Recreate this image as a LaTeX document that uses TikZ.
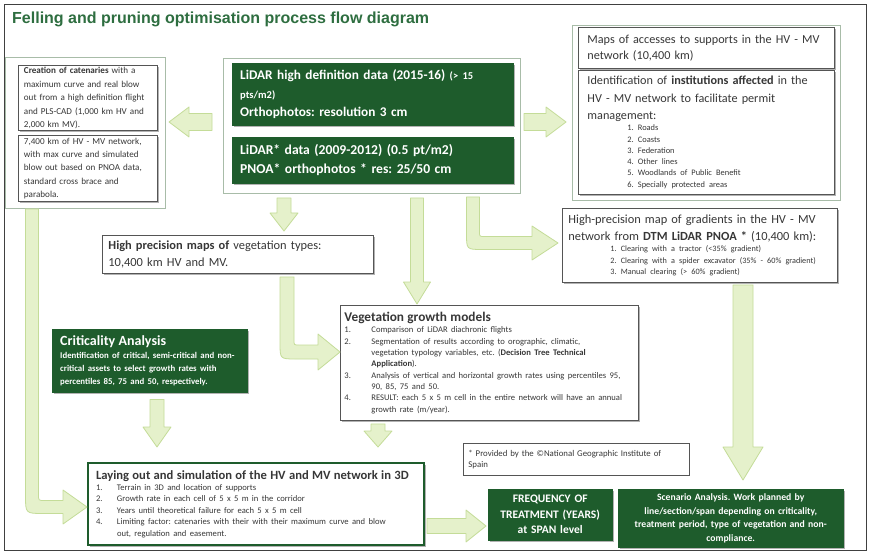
\documentclass[tikz,border=0pt]{standalone}
\usepackage{fontspec}
\setmainfont{Carlito}[WordSpace=0.85]
\newfontfamily\titlefont{Liberation Sans}
\usetikzlibrary{calc,shadows}
\frenchspacing

\definecolor{dkgreen}{RGB}{30,92,44}
\definecolor{titlegreen}{RGB}{46,110,64}
\definecolor{grpedge}{RGB}{168,188,168}
\definecolor{boxedge}{RGB}{85,85,85}
\definecolor{arrfill}{RGB}{229,241,203}
\definecolor{arredge}{RGB}{196,220,152}
\definecolor{txt}{RGB}{55,55,55}

% numbered entry with hanging indent
\newcommand\numitem[3]{\par\noindent\hangindent=#1\hangafter=1\makebox[#1][l]{#2}#3}

% straight block arrow: start, tip, shaft half width, head half width, head length
\newcommand\flowarrow[5]{%
  \coordinate (fa-b) at ($(#2)!#5!(#1)$);
  \filldraw[flow] ($(#1)!#3!90:(#2)$) -- ($(fa-b)!#3!90:(#2)$) -- ($(fa-b)!#4!90:(#2)$)
    -- (#2) -- ($(fa-b)!#4!-90:(#2)$) -- ($(fa-b)!#3!-90:(#2)$) -- ($(#1)!#3!-90:(#2)$) -- cycle;}

% bent block arrow (down, then right): start, tip, shaft half, head half, head length, outer radius, inner radius
\newcommand\bentarrow[7]{%
  \coordinate (ba-c) at (#1 |- #2);
  \filldraw[flow] ($(#1)+(-#3,0)$) -- ($(ba-c)+(-#3,#3-#6)$)
    .. controls ($(ba-c)+(-#3,#3)$) .. ($(ba-c)+(#6-#3,#3)$)
    -- ($(#2)+(-#5,#3)$) -- ($(#2)+(-#5,#4)$) -- (#2) -- ($(#2)+(-#5,-#4)$) -- ($(#2)+(-#5,-#3)$)
    -- ($(ba-c)+(#3+#7,-#3)$) .. controls ($(ba-c)+(#3,-#3)$) .. ($(ba-c)+(#3,-#3-#7)$)
    -- ($(#1)+(#3,0)$) -- cycle;}

\begin{document}
\frenchspacing
\begin{tikzpicture}[x=1pt,y=-1pt,
  grp/.style={draw=grpedge, line width=1pt, anchor=north west, inner sep=0pt},
  softshadow/.style={drop shadow={shadow xshift=1.5pt, shadow yshift=-1.5pt, fill=black, opacity=0.3}},
  wbox/.style={draw=boxedge, fill=white, line width=0.9pt, anchor=north west,
    inner xsep=5pt, inner ysep=2pt, align=left, text=txt, softshadow},
  gbox/.style={fill=dkgreen, draw=dkgreen, anchor=north west, inner xsep=8pt, inner ysep=2pt,
    text=white, align=left, softshadow},
  flow/.style={fill=arrfill, draw=arredge, line width=0.8pt, line join=round}]

\useasboundingbox (0,0) rectangle (869,553);
\fill[white] (0,0) rectangle (869,553);
\draw[black!75, line width=0.8pt] (4,4) rectangle (866,550);

% heading
\node[anchor=west, inner sep=0pt, text=titlegreen,
  font=\titlefont\bfseries\fontsize{16}{19}\selectfont] (title) at (12,19)
  {Felling and pruning optimisation process flow diagram};

% catenaries group
\node[grp, minimum width=160, minimum height=151] (lgroup) at (5,57) {};
\node[wbox, inner xsep=5.5pt, minimum width=139, minimum height=64, text width=128pt,
  font=\fontsize{9.1}{13.4}\selectfont] (cat1) at (18,65)
  {\textbf{Creation of catenaries} with a\\maximum curve and real blow\\out from a high definition flight\\and PLS-CAD (1,000 km HV and\\2,000 km MV).};
\node[wbox, inner xsep=5.5pt, minimum width=139, minimum height=66, text width=128pt,
  font=\fontsize{9.1}{13.4}\selectfont] (cat2) at (18,135)
  {7,400 km of HV - MV network,\\with max curve and simulated\\blow out based on PNOA data,\\standard cross brace and\\parabola.};

% LiDAR group
\node[grp, minimum width=297, minimum height=135] (cgroup) at (223,58) {};
\node[gbox, minimum width=281, minimum height=62, text width=265pt,
  font=\bfseries\fontsize{13.3}{18.5}\selectfont] (lidar1) at (232,63)
  {LiDAR high definition data (2015-16) {\fontsize{10.5}{18}\selectfont (> 15}\\{\fontsize{10.5}{18}\selectfont pts/m2)}\\Orthophotos: resolution 3 cm};
\node[gbox, minimum width=281, minimum height=46, text width=265pt,
  font=\bfseries\fontsize{13.6}{19}\selectfont] (lidar2) at (232,137)
  {LiDAR* data (2009-2012) (0.5 pt/m2)\\PNOA* orthophotos * res: 25/50 cm};

% accesses and institutions group
\node[grp, minimum width=268, minimum height=175] (rgroup) at (572,25) {};
\node[wbox, inner xsep=9pt, minimum width=256, minimum height=41, text width=238pt,
  font=\fontsize{12.2}{16}\selectfont] (access) at (578,27)
  {Maps of accesses to supports in the HV - MV\\network (10,400 km)};
\node[wbox, inner xsep=9pt, minimum width=256, minimum height=124, text width=238pt,
  font=\fontsize{12.2}{17.3}\selectfont] (inst) at (578,70)
  {Identification of \textbf{institutions affected} in the\\HV - MV network to facilitate permit\\management:\par
   {\fontsize{8.4}{11.3}\selectfont\leftskip=40pt 1. Roads\\2. Coasts\\3. Federation\\4. Other lines\\5. Woodlands of Public Benefit\\6. Specially protected areas\par}};

% gradients
\node[wbox, inner xsep=6pt, minimum width=275, minimum height=74, text width=263pt,
  font=\fontsize{12.4}{17}\selectfont] (grad) at (562,208)
  {High-precision map of gradients in the HV - MV\\network from \textbf{DTM LiDAR PNOA *} (10,400 km):\par
   {\fontsize{8.2}{11.3}\selectfont\leftskip=42pt 1. Clearing with a tractor (<35\% gradient)\\2. Clearing with a spider excavator (35\% - 60\% gradient)\\3. Manual clearing (> 60\% gradient)\par}};

% vegetation types
\node[wbox, inner xsep=6pt, minimum width=271, minimum height=38, text width=259pt,
  font=\fontsize{12.4}{17}\selectfont] (hpm) at (102,235)
  {\textbf{High precision maps of} vegetation types:\\10,400 km HV and MV.};

% criticality
\node[gbox, minimum width=195, minimum height=63, text width=179pt,
  font=\bfseries] (crit) at (52,329)
  {{\fontsize{14}{16}\selectfont Criticality Analysis\par}
   {\fontsize{8.8}{13}\selectfont Identification of critical, semi-critical and non-\\critical assets to select growth rates with\\percentiles 85, 75 and 50, respectively.\par}};

% growth models
\node[wbox, inner xsep=4pt, minimum width=298, minimum height=115, text width=290pt] (veg) at (340,305)
  {{\fontsize{13.3}{15.5}\selectfont\bfseries Vegetation growth models\par}
   \fontsize{8.6}{11.3}\selectfont
   \numitem{27pt}{1.}{Comparison of LiDAR diachronic flights}
   \numitem{27pt}{2.}{Segmentation of results according to orographic, climatic,\newline vegetation typology variables, etc. (\textbf{Decision Tree Technical\newline Application}).}
   \numitem{27pt}{3.}{Analysis of vertical and horizontal growth rates using percentiles 95,\newline 90, 85, 75 and 50.}
   \numitem{27pt}{4.}{RESULT: each 5 x 5 m cell in the entire network will have an annual\newline growth rate (m/year).}\par};

% 3D simulation
\node[wbox, draw=dkgreen, line width=2pt, inner xsep=8pt, minimum width=336, minimum height=82,
  text width=320pt] (lay) at (87,462)
  {{\fontsize{12.6}{15}\selectfont\bfseries Laying out and simulation of the HV and MV network in 3D\par}
   \fontsize{8.6}{11.4}\selectfont
   \numitem{21pt}{1.}{Terrain in 3D and location of supports}
   \numitem{21pt}{2.}{Growth rate in each cell of 5 x 5 m in the corridor}
   \numitem{21pt}{3.}{Years until theoretical failure for each 5 x 5 m cell}
   \numitem{21pt}{4.}{Limiting factor: catenaries with their with their maximum curve and blow\newline out, regulation and easement.}\par};

% footnote
\node[draw=boxedge, line width=0.8pt, anchor=north west, minimum width=226, minimum height=32,
  text width=216pt, inner xsep=5pt, align=left, text=txt, font=\fontsize{8.8}{11.5}\selectfont] (foot) at (463,443)
  {* Provided by the ©National Geographic Institute of\\Spain};

% results
\node[gbox, align=center, minimum width=124, minimum height=51, text width=116pt, inner xsep=4pt,
  font=\bfseries\fontsize{11.5}{15.5}\selectfont] (freq) at (488,489)
  {FREQUENCY OF\\TREATMENT (YEARS)\\at SPAN level};
\node[gbox, align=center, minimum width=225, minimum height=58, text width=217pt, inner xsep=4pt,
  font=\bfseries\fontsize{9.7}{13.5}\selectfont] (scen) at (618,489)
  {Scenario Analysis. Work planned by\\line/section/span depending on criticality,\\treatment period, type of vegetation and non-\\compliance.};

% connectors
\coordinate (a1s) at ($(cgroup.west |- 0,122)+(-11,0)$);
\coordinate (a1t) at ($(lgroup.east |- 0,122)+(3,0)$);
\flowarrow{a1s}{a1t}{8.5pt}{15pt}{20pt}

\coordinate (a2s) at ($(cgroup.east |- 0,122)+(3,0)$);
\coordinate (a2t) at ($(rgroup.west |- 0,122)+(-6,0)$);
\flowarrow{a2s}{a2t}{8.5pt}{15pt}{20pt}

\coordinate (a3s) at ($(cgroup.south -| 284,0)+(0,4)$);
\coordinate (a3t) at ($(hpm.north -| 284,0)+(0,-4)$);
\flowarrow{a3s}{a3t}{7pt}{14pt}{18pt}

\coordinate (a4s) at ($(cgroup.south -| 417,0)+(0,4)$);
\coordinate (a4t) at ($(veg.north -| 417,0)+(0,-1)$);
\flowarrow{a4s}{a4t}{6.5pt}{13.5pt}{22pt}

\coordinate (a5s) at ($(crit.south -| 157,0)+(0,7)$);
\coordinate (a5t) at ($(lay.north -| 157,0)+(0,-15)$);
\flowarrow{a5s}{a5t}{7pt}{14pt}{20pt}

\coordinate (a6s) at ($(veg.south -| 378,0)+(0,3)$);
\coordinate (a6t) at ($(lay.north -| 378,0)+(0,-15)$);
\flowarrow{a6s}{a6t}{7pt}{14pt}{16pt}

\coordinate (a7s) at ($(lay.east |- 0,526)+(2,0)$);
\coordinate (a7t) at ($(freq.west |- 0,526)+(-2,0)$);
\flowarrow{a7s}{a7t}{7.5pt}{16pt}{20pt}

\coordinate (a8s) at ($(grad.south -| 743,0)+(0,2)$);
\coordinate (a8t) at ($(scen.north -| 743,0)+(0,-9)$);
\flowarrow{a8s}{a8t}{10pt}{20pt}{33pt}

\coordinate (b1s) at (lgroup.south -| 32,0);
\coordinate (b1t) at (lay.west |- 0,507);
\bentarrow{b1s}{b1t}{6.5}{17}{24}{18}{6}

\coordinate (b2s) at ($(cgroup.south -| 473,0)+(0,3)$);
\coordinate (b2t) at ($(grad.west |- 0,243)+(-4,0)$);
\bentarrow{b2s}{b2t}{6.5}{17}{26}{16}{5}

\coordinate (b3s) at ($(hpm.south -| 287,0)+(0,3)$);
\coordinate (b3t) at (veg.west |- 0,352);
\bentarrow{b3s}{b3t}{7}{18}{22}{16}{5}

\end{tikzpicture}
\end{document}
